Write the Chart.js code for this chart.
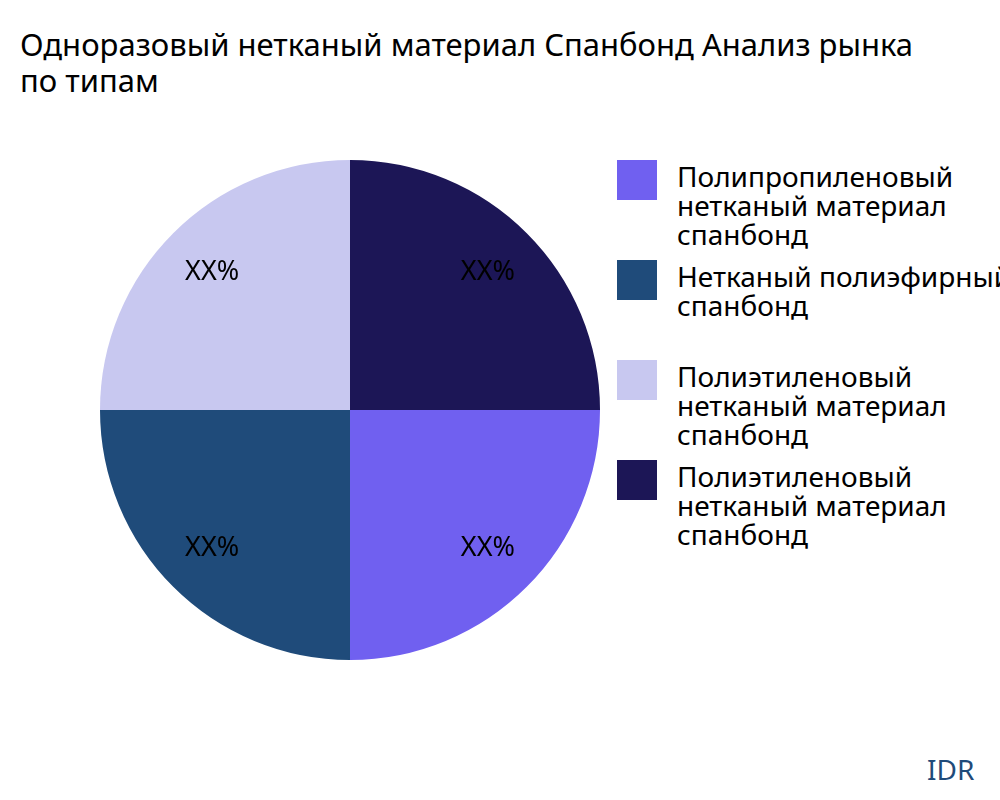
<!DOCTYPE html>
<html><head><meta charset="utf-8">
<script src="https://cdn.jsdelivr.net/npm/chart.js@4"></script>
<style>
  body { margin:0; width:1000px; height:800px; overflow:hidden; background:#fff; font-family:"Noto Sans", sans-serif; position:relative; }
  #title { position:absolute; left:20px; top:26px; font-size:31px; line-height:36px; white-space:nowrap; color:#000; }
  #wrap { position:absolute; left:100px; top:160px; width:500px; height:500px; }
  .leg { position:absolute; left:617px; font-size:28px; line-height:29px; white-space:nowrap; color:#000; }
  .leg span { position:absolute; left:0; top:0; width:40px; height:40px; }
  .leg div { position:absolute; left:60px; top:2px; }
  #idr { position:absolute; left:927px; top:750px; font-size:28px; color:#1f4b7a; }
</style></head>
<body>
<div id="title">Одноразовый нетканый материал Спанбонд Анализ рынка<br>по типам</div>
<div id="wrap"><canvas id="pie"></canvas></div>
<div id="legend"></div>
<div id="idr">IDR</div>
<script>
const categories = ['Полипропиленовый<br>нетканый материал<br>спанбонд', 'Нетканый полиэфирный<br>спанбонд', 'Полиэтиленовый<br>нетканый материал<br>спанбонд', 'Полиэтиленовый<br>нетканый материал<br>спанбонд'];
const values = [25, 25, 25, 25];
const labels = ['XX%', 'XX%', 'XX%', 'XX%'];
const colors = ['#7060f0', '#1f4b7a', '#c8c8f0', '#1c1656'];
const legendTops = [160, 260, 360, 460];

// legend
const legEl = document.getElementById('legend');
categories.forEach((c, i) => {
  const d = document.createElement('div');
  d.className = 'leg';
  d.style.top = legendTops[i] + 'px';
  d.innerHTML = '<span style="background:' + colors[i] + '"></span><div>' + c + '</div>';
  legEl.appendChild(d);
});

// slice labels
const sliceLabels = {
  id: 'sliceLabels',
  afterDatasetsDraw(chart) {
    const ctx = chart.ctx;
    chart.getDatasetMeta(0).data.forEach((arc, i) => {
      const p = arc.getProps(['x', 'y', 'startAngle', 'endAngle', 'outerRadius']);
      const a = (p.startAngle + p.endAngle) / 2;
      const r = p.outerRadius * 0.78;
      ctx.save();
      ctx.font = '27px "Noto Sans"';
      ctx.fillStyle = '#000';
      ctx.textAlign = 'center';
      ctx.textBaseline = 'middle';
      ctx.fillText(labels[i], p.x + Math.cos(a) * r, p.y + Math.sin(a) * r);
      ctx.restore();
    });
  }
};

new Chart(document.getElementById('pie'), {
  type: 'pie',
  data: { labels: categories, datasets: [{ data: values, backgroundColor: colors, borderWidth: 0 }] },
  options: {
    responsive: true, maintainAspectRatio: false, animation: false,
    rotation: 90,
    layout: { padding: 0 },
    plugins: { legend: { display: false }, tooltip: { enabled: false } }
  },
  plugins: [sliceLabels]
});
</script>
</body></html>
